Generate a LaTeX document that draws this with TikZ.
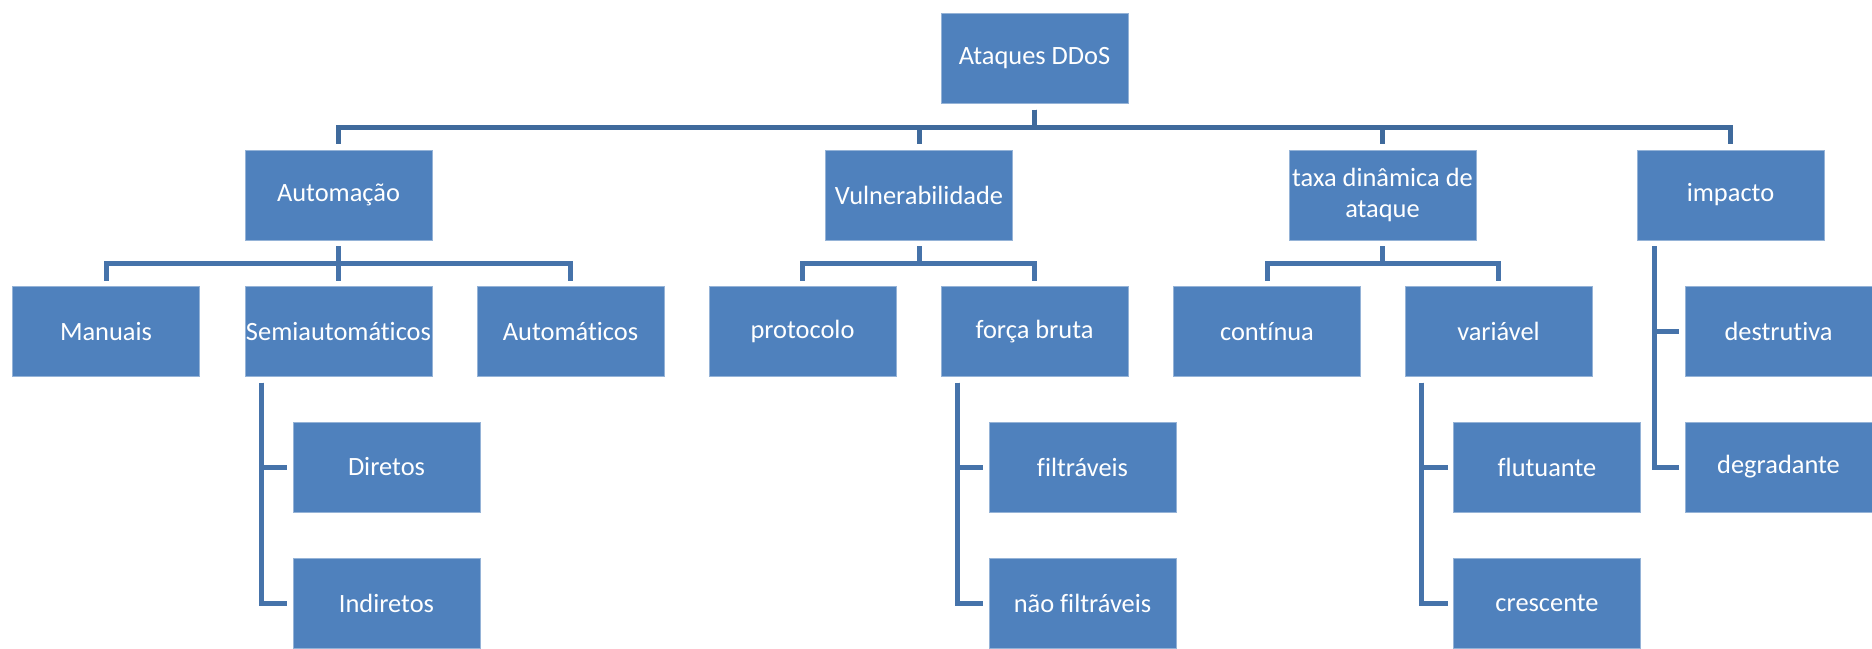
\documentclass[tikz,border=0pt]{standalone}
\usepackage{fontspec}
\setmainfont[Ligatures={NoCommon}]{Carlito}
\definecolor{boxblue}{HTML}{4F81BD}
\definecolor{linetop}{HTML}{3F6A9C}
\definecolor{linelow}{HTML}{4673AA}
\tikzset{
  box/.style={rectangle, fill=boxblue, draw=boxblue!60!white, line width=0.4pt,
    minimum width=93.5pt, minimum height=45pt, inner sep=0pt, outer sep=0pt,
    text=white, align=center, font=\fontsize{13.2}{15.5}\selectfont},
  conn/.style={draw=linelow, line width=2.5pt, line join=miter, shorten <=3pt, shorten >=3pt},
  conntop/.style={conn, draw=linetop},
}
\begin{document}
\begin{tikzpicture}[x=0.5pt, y=-0.5pt]
\useasboundingbox (0,0) rectangle (1872,648);
% root
\node[box] (root) at (1034.5,58.5) {Ataques DDoS};
% level 1
\node[box] (auto) at (338.5,195) {Automação};
\node[box] (vuln) at (919,195) {Vulnerabilidade};
\node[box] (taxa) at (1382.5,195) {taxa dinâmica de\\ataque};
\node[box] (imp)  at (1730.5,195) {impacto};
% level 2
\node[box] (man)  at (106,331.5) {Manuais};
\node[box] (semi) at (338.5,331.5) {Semiautomáticos};
\node[box] (autm) at (570.5,331.5) {Automáticos};
\node[box] (prot) at (802.5,331.5) {protocolo};
\node[box] (forc) at (1034.5,331.5) {força bruta};
\node[box] (cont) at (1267,331.5) {contínua};
\node[box] (vari) at (1498.5,331.5) {variável};
\node[box] (dest) at (1778.5,331.5) {destrutiva};
% level 3
\node[box] (dir)  at (386.5,467) {Diretos};
\node[box] (ind)  at (386.5,603) {Indiretos};
\node[box] (filt) at (1082.5,467) {filtráveis};
\node[box] (nfilt) at (1082.5,603) {não filtráveis};
\node[box] (flut) at (1547,467) {flutuante};
\node[box] (cres) at (1547,603) {crescente};
\node[box] (degr) at (1778.5,467) {degradante};
% top connectors
\foreach \c in {auto,vuln,taxa,imp}
  \draw[conntop] (root.south) -- ++(0,-11.75pt) -| (\c.north);
% level 2 connectors
\foreach \c in {man,semi,autm}
  \draw[conn] (auto.south) -- ++(0,-11.5pt) -| (\c.north);
\foreach \c in {prot,forc}
  \draw[conn] (vuln.south) -- ++(0,-11.5pt) -| (\c.north);
\foreach \c in {cont,vari}
  \draw[conn] (taxa.south) -- ++(0,-11.5pt) -| (\c.north);
% hanging connectors
\foreach \c in {dest,degr}
  \draw[conn] ([xshift=8.5pt]imp.south west) |- (\c.west);
\foreach \c in {dir,ind}
  \draw[conn] ([xshift=8pt]semi.south west) |- (\c.west);
\foreach \c in {filt,nfilt}
  \draw[conn] ([xshift=8pt]forc.south west) |- (\c.west);
\foreach \c in {flut,cres}
  \draw[conn] ([xshift=8pt]vari.south west) |- (\c.west);
\end{tikzpicture}
\end{document}
